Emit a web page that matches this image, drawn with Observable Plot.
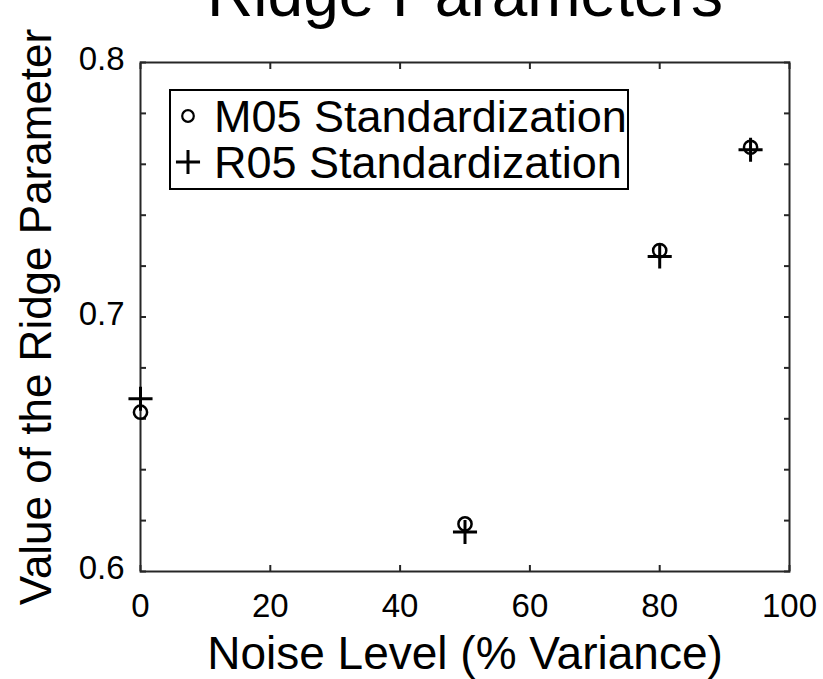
<!DOCTYPE html>
<html>
<head>
<meta charset="utf-8">
<script src="https://cdn.jsdelivr.net/npm/d3@7"></script>
<script src="https://cdn.jsdelivr.net/npm/@observablehq/plot@0.6"></script>
<style>
  html, body { margin: 0; padding: 0; background: #fff; }
  body { font-family: "Liberation Sans", Arial, Helvetica, sans-serif; }
  #chart { position: relative; width: 823px; height: 679px; overflow: hidden; }
  #chart svg { display: block; }
  .legend {
    position: absolute; left: 169px; top: 89px;
    width: 456px; height: 97px;
    border: 2px solid #000; background: #fff;
  }
  .legend .row {
    position: absolute; left: 0; height: 45px;
    font-size: 45px; line-height: 45px; color: #000; white-space: nowrap;
  }
  .legend .row svg { position: absolute; left: 0; top: 0; overflow: visible; }
  .legend .row span { position: absolute; left: 43px; top: 0; }
</style>
</head>
<body>
<div id="chart"></div>
<script>
// Noise level (% variance) and the chosen ridge parameter for each standardization
const noiseLevels = [0, 50, 80, 94];
const m05Values = [0.6626, 0.6187, 0.7261, 0.7667];
const r05Values = [0.6679, 0.6155, 0.7238, 0.7657];

const seriesNames = ["M05 Standardization", "R05 Standardization"];
const seriesSymbols = ["circle", "plus"];

const xTicks = [0, 20, 40, 60, 80, 100];
const yTicks = [0.6, 0.62, 0.64, 0.66, 0.68, 0.7, 0.72, 0.74, 0.76, 0.78, 0.8];
const yTickLabels = [0.6, 0.7, 0.8];

const titleText = "Ridge Parameters";
const xLabel = "Noise Level (% Variance)";
const yLabel = "Value of the Ridge Parameter";

const rows = noiseLevels.map((n, i) => ({noise: n, m05: m05Values[i], r05: r05Values[i]}));

const axisColor = "#262626";
const font = "Liberation Sans, Arial, Helvetica, sans-serif";
const plusR = 7.8;   // plus arms of about 12px each way

const chart = Plot.plot({
  width: 823,
  height: 679,
  marginLeft: 140,
  marginRight: 34,
  marginTop: 62,
  marginBottom: 108,
  style: {fontFamily: font, background: "#fff", overflow: "visible", color: "#000"},
  x: {domain: [0, 100]},
  y: {domain: [0.6, 0.8]},
  marks: [
    // inward tick marks on all four sides
    Plot.axisX(xTicks, {anchor: "bottom", tickSize: -6, fill: "none", stroke: axisColor, strokeWidth: 2, label: null}),
    Plot.axisX(xTicks, {anchor: "top", tickSize: -6, fill: "none", stroke: axisColor, strokeWidth: 2, label: null}),
    Plot.axisY(yTicks, {anchor: "left", tickSize: -6, fill: "none", stroke: axisColor, strokeWidth: 2, label: null}),
    Plot.axisY(yTicks, {anchor: "right", tickSize: -6, fill: "none", stroke: axisColor, strokeWidth: 2, label: null}),
    // tick labels
    Plot.axisX(xTicks, {anchor: "bottom", tickSize: 0, tickPadding: 22, fontSize: 33, fill: "#000", label: null, tickFormat: d => String(d)}),
    Plot.axisY(yTickLabels, {anchor: "left", tickSize: 0, tickPadding: 16, fontSize: 33, fill: "#000", label: null, dy: -3, tickFormat: d => d.toFixed(1)}),
    Plot.frame({stroke: axisColor, strokeWidth: 2}),
    // data
    Plot.dot(rows, {x: "noise", y: "m05", symbol: "circle", r: 6.6, stroke: "#000", strokeWidth: 2.5, fill: "none"}),
    Plot.dot(rows, {x: "noise", y: "r05", symbol: "plus", r: plusR, stroke: "#000", strokeWidth: 3}),
    // title and axis labels
    Plot.text([titleText], {frameAnchor: "top", dy: -67, lineAnchor: "middle", fontSize: 64, fill: "#000"}),
    Plot.text([xLabel], {frameAnchor: "bottom", dy: 65, lineAnchor: "top", fontSize: 46, fill: "#000"}),
    Plot.text([yLabel], {frameAnchor: "left", dx: -104, rotate: -90, textAnchor: "middle", lineAnchor: "middle", fontSize: 44, fill: "#000"})
  ]
});

const host = document.getElementById("chart");
host.appendChild(chart);

// boxed legend inside the plot area
const legend = document.createElement("div");
legend.className = "legend";
const rowTops = [3, 49];
seriesNames.forEach((name, i) => {
  const row = document.createElement("div");
  row.className = "row";
  row.style.top = rowTops[i] + "px";
  row.style.width = "100%";
  const sym = d3.create("svg").attr("width", 34).attr("height", 45);
  const g = sym.append("g").attr("transform", "translate(17,22)");
  if (seriesSymbols[i] === "circle") {
    g.append("circle").attr("r", 5.8).attr("fill", "none").attr("stroke", "#000").attr("stroke-width", 2.2);
  } else {
    g.append("path").attr("d", d3.symbol(d3.symbolPlus, Math.PI * plusR * plusR)())
      .attr("fill", "none").attr("stroke", "#000").attr("stroke-width", 3);
  }
  row.appendChild(sym.node());
  const label = document.createElement("span");
  label.textContent = name;
  row.appendChild(label);
  legend.appendChild(row);
});
host.appendChild(legend);
</script>
</body>
</html>
